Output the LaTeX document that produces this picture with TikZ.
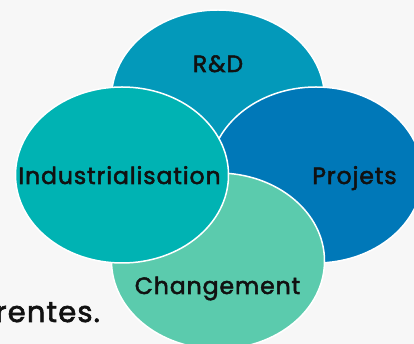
\documentclass[tikz,border=0pt]{standalone}
\usepackage{fontspec}
\setmainfont{Poppins}
\newfontfamily\lblfont{Poppins}[LetterSpace=4,FakeBold=2.2]
\usetikzlibrary{shapes.geometric}
\definecolor{bg}{HTML}{F7F7F7}
\definecolor{rdc}{HTML}{0399BA}
\definecolor{pjc}{HTML}{0078B8}
\definecolor{inc}{HTML}{00B3B3}
\definecolor{chc}{HTML}{5BCBAD}
\definecolor{txt}{HTML}{111111}
\begin{document}
\begin{tikzpicture}[x=1pt,y=1pt,
  blob/.style={ellipse, draw=white, line width=1.5pt, minimum width=213pt, minimum height=176pt, inner sep=0pt},
  lbl/.style={font=\lblfont\fontsize{23.5}{26}\selectfont, text=txt, inner sep=0pt, anchor=base}]
\useasboundingbox (0,0) rectangle (414,344);
\fill[bg] (0,0) rectangle (414,344);
\clip (0,0) rectangle (414,344);
\node[lbl, anchor=base east, font=\lblfont\fontsize{29}{32}\selectfont] (rentes) at (100,22) {rentes.};
\node[blob, fill=rdc] (rd) at (218,246) {};
\node[blob, fill=pjc] (pj) at (316,169) {};
\node[blob, fill=chc] (ch) at (218,83) {};
\node[blob, fill=inc] (in) at (122,169) {};
\node[lbl] (trd) at (218,272) {R\&D};
\node[lbl] (tpj) at (354.5,160) {Projets};
\node[lbl] (tch) at (217.5,50) {Changement};
\node[lbl] (tin) at (119.5,160) {Industrialisation};
\end{tikzpicture}
\end{document}
